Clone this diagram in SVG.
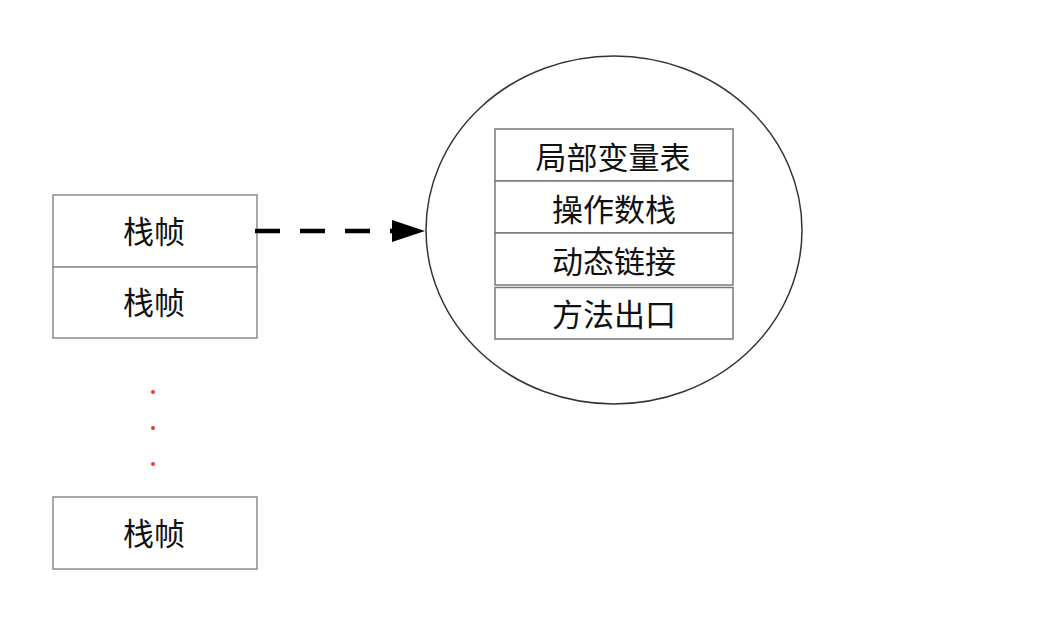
<svg xmlns="http://www.w3.org/2000/svg" width="1050" height="632" viewBox="0 0 1050 632">
<style>
.box{fill:#fff;stroke:#8c8c8c;stroke-width:1.5}
.ibox{fill:#fff;stroke:#7a7a7a;stroke-width:1.5}
.t{font-family:"Noto Sans CJK SC","Noto Sans",sans-serif;font-size:31px;font-weight:400;fill:#111;text-anchor:middle;dominant-baseline:central}
.dot{fill:#e8392a}
</style>
<defs>
<marker id="ah" markerWidth="34" markerHeight="24" refX="33" refY="12" orient="auto" markerUnits="userSpaceOnUse">
<path d="M0,1 L33,12 L0,23 Z" fill="#000"/>
</marker>
</defs>
<rect width="1050" height="632" fill="#fff"/>
<g id="stack">
<rect class="box" x="53" y="195" width="204" height="72"/>
<text class="t" x="154" y="229">栈帧</text>
<rect class="box" x="53" y="267" width="204" height="71"/>
<text class="t" x="154" y="300">栈帧</text>
</g>
<g id="dots">
<circle class="dot" cx="153" cy="392" r="2"/>
<circle class="dot" cx="153" cy="428" r="2"/>
<circle class="dot" cx="153" cy="464" r="2"/>
</g>
<g id="stack-bottom">
<rect class="box" x="53" y="497" width="204" height="72"/>
<text class="t" x="154" y="531">栈帧</text>
</g>
<g id="frame">
<ellipse cx="614" cy="230" rx="188" ry="174" fill="#fff" stroke="#333" stroke-width="1.5"/>
<rect class="ibox" x="495" y="129" width="238" height="52"/>
<text class="t" x="613" y="155">局部变量表</text>
<rect class="ibox" x="495" y="181" width="238" height="52"/>
<text class="t" x="614" y="207">操作数栈</text>
<rect class="ibox" x="495" y="233" width="238" height="52"/>
<text class="t" x="614" y="259">动态链接</text>
<rect class="ibox" x="495" y="287.5" width="238" height="51.5"/>
<text class="t" x="614" y="312">方法出口</text>
</g>
<g id="connectors">
<line x1="255" y1="231" x2="425" y2="231" stroke="#000" stroke-width="4.5" stroke-dasharray="25,20" marker-end="url(#ah)"/>
</g>
</svg>
